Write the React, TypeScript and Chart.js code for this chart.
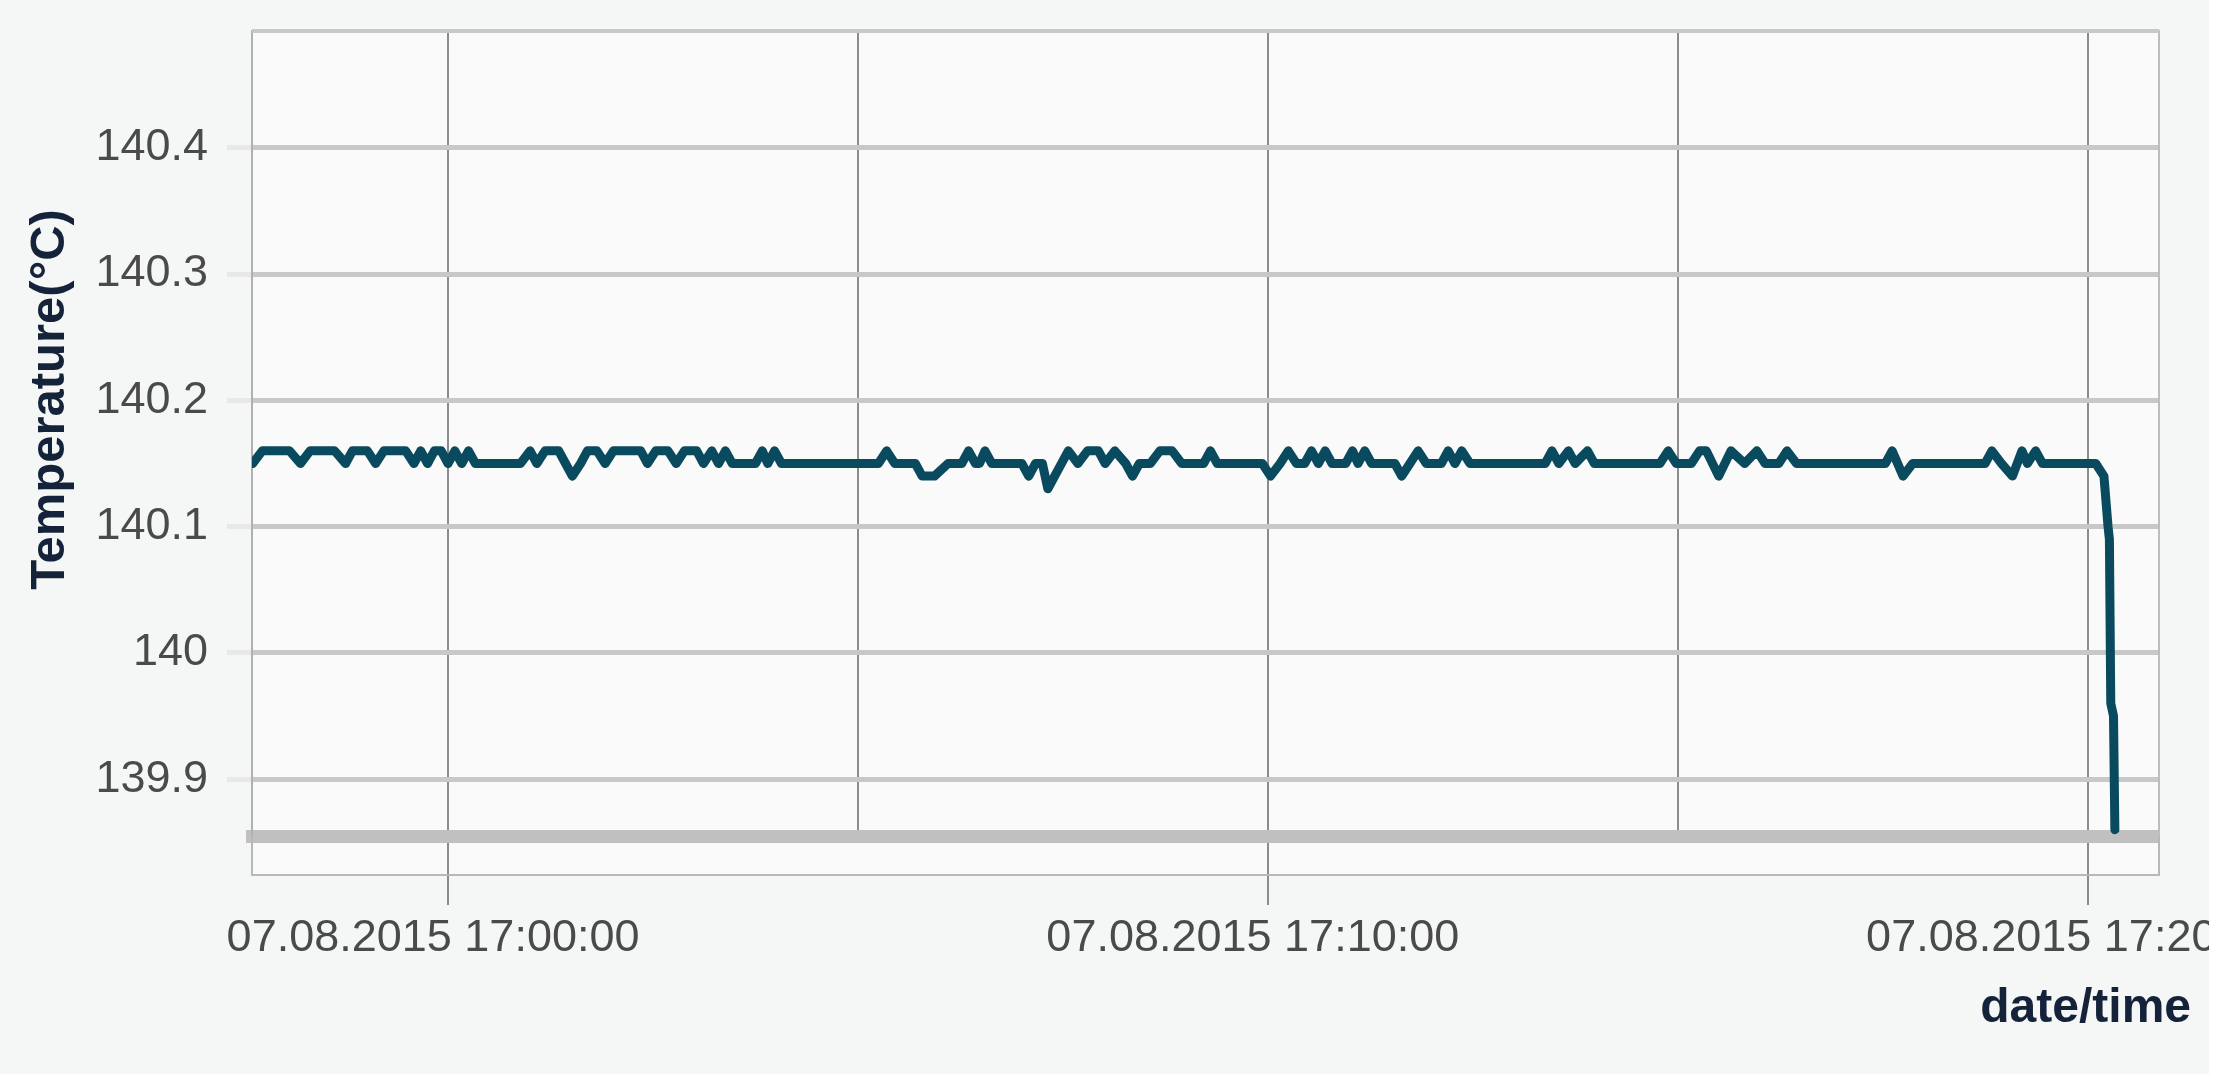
import React, { useEffect, useRef } from 'react';
import { Chart, registerables } from 'chart.js';

Chart.register(...registerables);

// time offset in seconds relative to 07.08.2015 17:00:00
const timeSeconds = [
  -143, -136, -116, -108, -101, -83, -75, -70, -59, -53, -47, -31, -25, -20, -15, -10, -5,
  0, 5, 10, 15, 20, 53, 60, 65, 71, 81, 86, 91, 97, 102, 109, 115, 121, 141, 146, 152, 161,
  167, 173, 182, 187, 193, 198, 203, 208, 225, 230, 234, 239, 244, 315, 321, 327, 342, 347,
  356, 366, 376, 381, 386, 389, 393, 398, 420, 425, 430, 435, 439, 444, 454, 461, 468, 476,
  481, 488, 496, 501, 506, 514, 521, 530, 537, 553, 558, 563, 596, 602, 609, 615, 621, 627,
  632, 637, 642, 647, 657, 662, 666, 671, 676, 693, 698, 704, 710, 716, 727, 732, 737, 742,
  748, 803, 808, 813, 820, 825, 834, 839, 887, 893, 899, 910, 916, 921, 930, 939, 949, 958,
  964, 974, 980, 987, 1052, 1057, 1065, 1072, 1125, 1130, 1137, 1145, 1152, 1156, 1162, 1167,
  1206, 1212, 1215, 1216, 1217, 1219, 1220,
];

const temperatures = [
  140.15, 140.16, 140.16, 140.15, 140.16, 140.16, 140.15, 140.16, 140.16, 140.15, 140.16, 140.16, 140.15, 140.16, 140.15, 140.16, 140.16,
  140.15, 140.16, 140.15, 140.16, 140.15, 140.15, 140.16, 140.15, 140.16, 140.16, 140.15, 140.14, 140.15, 140.16, 140.16, 140.15, 140.16, 140.16, 140.15, 140.16, 140.16,
  140.15, 140.16, 140.16, 140.15, 140.16, 140.15, 140.16, 140.15, 140.15, 140.16, 140.15, 140.16, 140.15, 140.15, 140.16, 140.15, 140.15, 140.14,
  140.14, 140.15, 140.15, 140.16, 140.15, 140.15, 140.16, 140.15, 140.15, 140.14, 140.15, 140.15, 140.13, 140.14, 140.16, 140.15, 140.16, 140.16,
  140.15, 140.16, 140.15, 140.14, 140.15, 140.15, 140.16, 140.16, 140.15, 140.15, 140.16, 140.15, 140.15, 140.14, 140.15, 140.16, 140.15, 140.15,
  140.16, 140.15, 140.16, 140.15, 140.15, 140.16, 140.15, 140.16, 140.15, 140.15, 140.14, 140.15, 140.16, 140.15, 140.15, 140.16, 140.15, 140.16,
  140.15, 140.15, 140.16, 140.15, 140.16, 140.15, 140.16, 140.15, 140.15, 140.16, 140.15, 140.15, 140.16, 140.16, 140.14, 140.16, 140.15, 140.16,
  140.15, 140.15, 140.16, 140.15, 140.15, 140.16, 140.14, 140.15, 140.15, 140.16, 140.15, 140.14, 140.16, 140.15, 140.16, 140.15,
  140.15, 140.14, 140.10, 140.09, 139.96, 139.95, 139.86,
];

const xTickSeconds = [0, 600, 1200];
const xTickLabels = ['07.08.2015 17:00:00', '07.08.2015 17:10:00', '07.08.2015 17:20:00'];
const yTickValues = [139.9, 140, 140.1, 140.2, 140.3, 140.4];
const yTickLabels = ['139.9', '140', '140.1', '140.2', '140.3', '140.4'];

const X_MIN = -143.5;
const X_MAX = 1252.3;
const Y_MIN = 139.855;
const Y_MAX = 140.4925;

const TICK_FONT = "'Liberation Sans', Arial, sans-serif";
const TITLE_FONT = "'Liberation Sans', Arial, sans-serif";
const TITLE_COLOR = '#14233a';
const TICK_COLOR = '#4a4a4a';
const STRIP = 39;

const framePlugin = {
  id: 'frameDeco',
  beforeDraw(chart: any) {
    const { ctx, chartArea: a } = chart;
    ctx.save();
    ctx.fillStyle = '#fafafa';
    ctx.fillRect(a.left, a.top, a.right - a.left, a.bottom - a.top + STRIP);
    ctx.restore();
  },
  afterDraw(chart: any) {
    const { ctx, chartArea: a } = chart;
    ctx.save();
    ctx.strokeStyle = '#c8c8c8';
    ctx.lineWidth = 4;
    ctx.beginPath();
    ctx.moveTo(a.left, a.top);
    ctx.lineTo(a.right, a.top);
    ctx.stroke();
    ctx.strokeStyle = '#b8b8b8';
    ctx.lineWidth = 2;
    ctx.beginPath();
    ctx.moveTo(a.left, a.bottom);
    ctx.lineTo(a.left, a.bottom + STRIP);
    ctx.lineTo(a.right, a.bottom + STRIP);
    ctx.lineTo(a.right, a.bottom);
    ctx.stroke();
    ctx.restore();
  },
};

export default function App() {
  const canvasRef = useRef<HTMLCanvasElement | null>(null);

  useEffect(() => {
    const canvas = canvasRef.current;
    if (!canvas) return;
    const points = timeSeconds.map((t, i) => ({ x: t, y: temperatures[i] }));
    const chart = new Chart(canvas, {
      type: 'line',
      data: {
        datasets: [
          {
            data: points,
            borderColor: '#0a4a5e',
            backgroundColor: '#0a4a5e',
            borderWidth: 9,
            pointRadius: 0,
            tension: 0,
            fill: false,
            borderJoinStyle: 'round',
            borderCapStyle: 'round',
            xAxisID: 'x',
            yAxisID: 'y',
          },
        ],
      },
      options: {
        animation: false,
        responsive: false,
        maintainAspectRatio: false,
        events: [],
        layout: { padding: { top: 31, left: 0, right: 209, bottom: 0 } },
        plugins: {
          legend: { display: false },
          tooltip: { enabled: false },
          title: {
            display: true,
            text: 'date/time',
            position: 'bottom',
            align: 'end',
            color: TITLE_COLOR,
            font: { family: TITLE_FONT, size: 48, weight: 'bold' },
            padding: { top: 8.2, bottom: 36.2 },
          },
        },
        scales: {
          x: {
            type: 'linear',
            position: 'bottom',
            min: X_MIN,
            max: X_MAX,
            ticks: {
              stepSize: 300,
              includeBounds: false,
              autoSkip: false,
              maxRotation: 0,
              minRotation: 0,
              padding: 6.5,
              labelOffset: -15,
              color: TICK_COLOR,
              font: { family: TICK_FONT, size: 45 },
              callback: (v: any) => {
                const idx = xTickSeconds.indexOf(Math.round(Number(v)));
                return idx >= 0 ? xTickLabels[idx] : '';
              },
            },
            grid: {
              color: '#8c8c8c',
              lineWidth: 2,
              tickLength: 69,
              tickColor: (c: any) =>
                c.tick && xTickSeconds.indexOf(Math.round(c.tick.value)) >= 0 ? '#8c8c8c' : 'rgba(0,0,0,0)',
            },
            border: { display: true, color: '#c0c0c0', width: 13 },
          },
          y: {
            type: 'linear',
            position: 'left',
            min: Y_MIN,
            max: Y_MAX,
            afterFit: (s: any) => {
              s.width = 252;
              s.paddingTop = 0;
              s.paddingBottom = 0;
            },
            ticks: {
              stepSize: 0.1,
              includeBounds: false,
              padding: 19,
              color: TICK_COLOR,
              font: { family: TICK_FONT, size: 45 },
              callback: (v: any) => {
                let best = -1;
                let bd = 1e9;
                yTickValues.forEach((tv, i) => {
                  const d = Math.abs(tv - Number(v));
                  if (d < bd) { bd = d; best = i; }
                });
                return best >= 0 && bd < 0.01 ? yTickLabels[best] : '';
              },
            },
            grid: {
              color: '#c8c8c8',
              lineWidth: 5,
              tickLength: 25,
              tickColor: '#e8e8e8',
            },
            border: { display: true, color: '#b0b0b0', width: 2 },
            title: {
              display: true,
              text: '     Temperature(°C)',
              color: TITLE_COLOR,
              font: { family: TITLE_FONT, size: 49, weight: 'bold' },
              padding: { top: 20.6, bottom: 0 },
            },
          },
          yRight: {
            type: 'linear',
            position: 'right',
            display: true,
            afterFit: (s: any) => {
              s.width = 32;
              s.paddingTop = 0;
              s.paddingBottom = 0;
            },
            ticks: { display: false },
            grid: { display: false, drawOnChartArea: false, drawTicks: false },
            border: { display: true, color: '#bdbdbd', width: 2 },
          },
        },
      },
      plugins: [framePlugin],
    } as any);
    return () => {
      chart.destroy();
    };
  }, []);

  return (
    <div
      style={{
        position: 'fixed',
        left: 0,
        top: 0,
        width: 2209,
        height: 1074,
        overflow: 'hidden',
        background: '#f5f7f7',
      }}
    >
      <canvas ref={canvasRef} width={2400} height={1074} style={{ display: 'block' }} />
    </div>
  );
}
